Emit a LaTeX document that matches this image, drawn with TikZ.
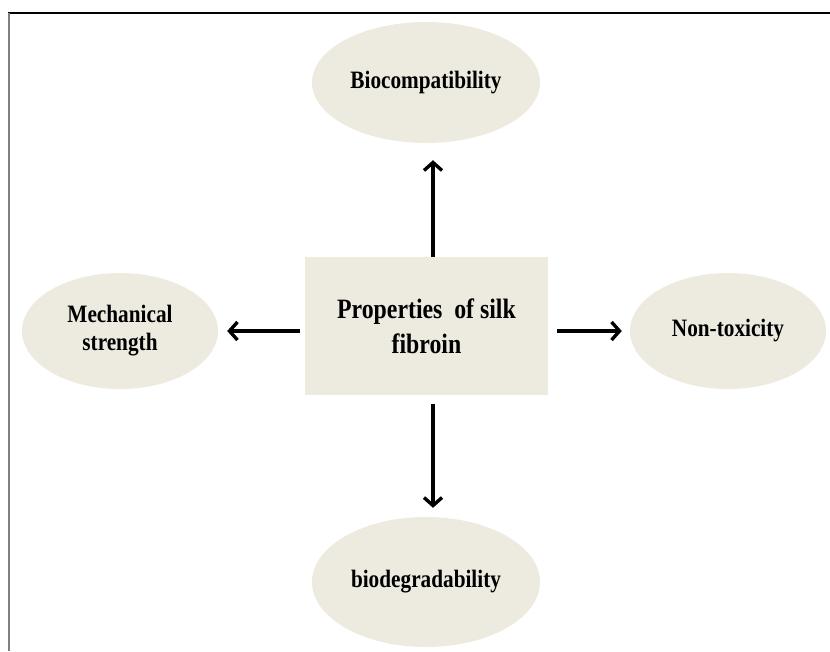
\documentclass[tikz,border=0pt]{standalone}
\usepackage{fontspec}
\setmainfont{Liberation Serif}[FakeStretch=0.85]
\usetikzlibrary{shapes.geometric, arrows.meta}

\definecolor{silkbeige}{RGB}{237,234,224}

\begin{document}
\begin{tikzpicture}[x=1pt, y=-1pt,
    prop/.style={ellipse, fill=silkbeige, inner sep=0pt, align=center,
      font=\fontsize{25}{28}\selectfont\bfseries},
    core/.style={rectangle, fill=silkbeige, inner sep=0pt, align=center,
      minimum width=243pt, minimum height=138pt,
      font=\fontsize{28}{35}\selectfont\bfseries},
    arr/.style={line width=3.4pt, -{Straight Barb[length=8pt, width=18pt, line width=3.4pt]}}]
  \useasboundingbox (0,0) rectangle (830,651);

  % Frame
  \draw[black, line width=2pt] (8,13) -- (830,13);
  \draw[gray, line width=2.4pt] (9,13) -- (9,651);

  % Centre box
  \node[core] (centre) at (426.5,326) {Properties \ of silk\\fibroin};

  % Properties
  \node[prop, minimum width=228pt, minimum height=121pt] (bio) at (426,82.5) {Biocompatibility};
  \node[prop, minimum width=228pt, minimum height=130pt] (degr) at (426,582) {biodegradability};
  \node[prop, minimum width=196pt, minimum height=116pt] (mech) at (120,331) {Mechanical\\strength};
  \node[prop, minimum width=196pt, minimum height=116pt] (tox) at (728,331) {Non-toxicity};

  % Arrows
  \draw[arr, shorten >=17pt] ([xshift=6.5pt]centre.north) -- ([xshift=7pt]bio.south);
  \draw[arr, shorten <=9pt, shorten >=9pt] ([xshift=6.5pt]centre.south) -- ([xshift=7pt]degr.north);
  \draw[arr, shorten <=5pt, shorten >=9pt] ([yshift=-5pt]centre.west) -- (mech.east);
  \draw[arr, shorten <=9pt, shorten >=8pt] ([yshift=-5pt]centre.east) -- (tox.west);
\end{tikzpicture}
\end{document}
